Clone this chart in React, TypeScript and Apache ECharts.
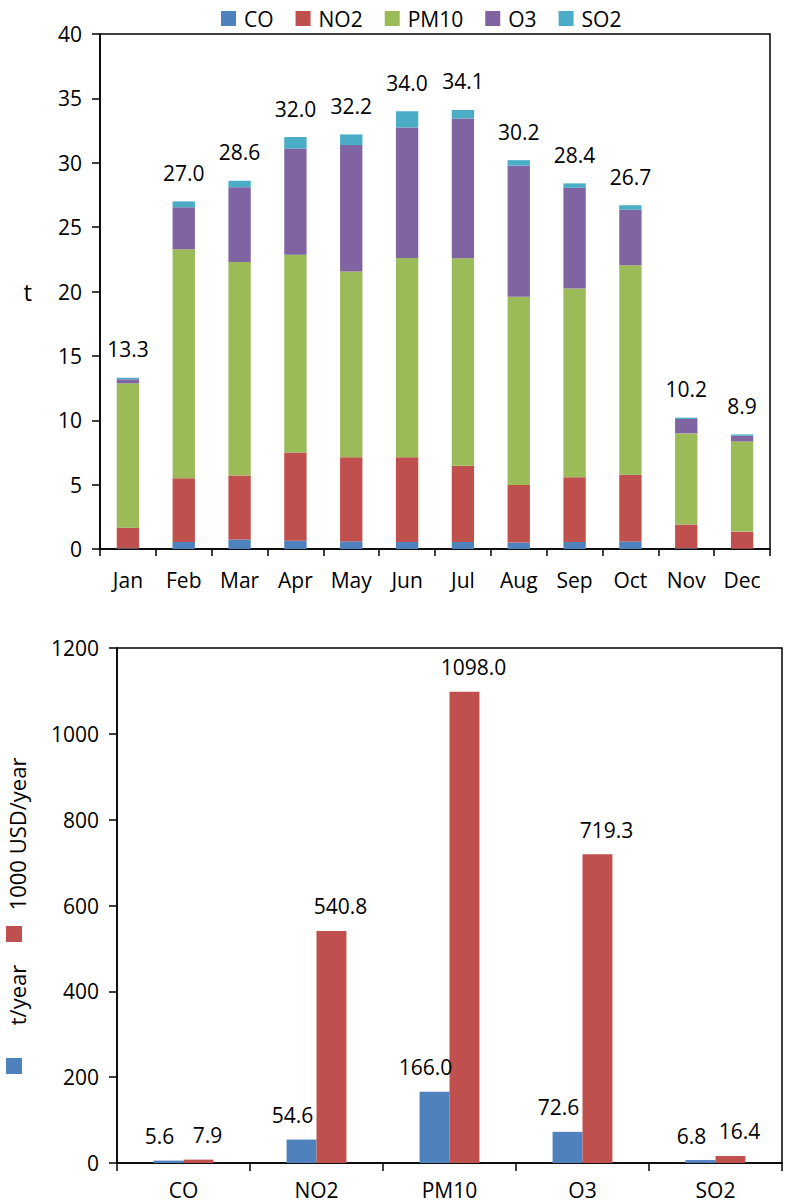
import React, { useEffect, useRef } from "react";
import * as echarts from "echarts";

const months = ["Jan", "Feb", "Mar", "Apr", "May", "Jun", "Jul", "Aug", "Sep", "Oct", "Nov", "Dec"];
const coMonthly = [0.05, 0.55, 0.74, 0.64, 0.59, 0.55, 0.55, 0.5, 0.55, 0.59, 0.05, 0.02];
const no2Monthly = [1.61, 4.94, 4.96, 6.86, 6.54, 6.58, 5.91, 4.48, 5.02, 5.17, 1.85, 1.33];
const pm10Monthly = [11.21, 17.79, 16.6, 15.36, 14.43, 15.47, 16.12, 14.62, 14.66, 16.27, 7.08, 7.01];
const o3Monthly = [0.31, 3.26, 5.8, 8.24, 9.81, 10.14, 10.86, 10.17, 7.82, 4.32, 1.12, 0.44];
const so2Monthly = [0.12, 0.46, 0.5, 0.9, 0.83, 1.26, 0.66, 0.43, 0.35, 0.35, 0.1, 0.1];

const pollutants = ["CO", "NO2", "PM10", "O3", "SO2"];
const tonsPerYear = [5.6, 54.6, 166.0, 72.6, 6.8];
const costPerYear = [7.9, 540.8, 1098.0, 719.3, 16.4];

const topSeries = [
  { name: "CO", data: coMonthly, color: "#4F81BD" },
  { name: "NO2", data: no2Monthly, color: "#C0504D" },
  { name: "PM10", data: pm10Monthly, color: "#9BBB59" },
  { name: "O3", data: o3Monthly, color: "#8064A2" },
  { name: "SO2", data: so2Monthly, color: "#4BACC6" },
];

const FONT = "Open Sans";

export default function App() {
  const ref = useRef<HTMLDivElement>(null);
  useEffect(() => {
    if (!ref.current) return;
    const chart = echarts.init(ref.current, undefined, { renderer: "svg" });
    const totals = months.map((_, i) =>
      topSeries.reduce((s, ser) => s + ser.data[i], 0)
    );
    const axisLine = { show: true, lineStyle: { color: "#000", width: 1.5 } };
    const labelStyle = { color: "#000", fontSize: 21, fontFamily: FONT };
    const plain = (v: number) => String(v);
    const option: any = {
      animation: false,
      backgroundColor: "#fff",
      textStyle: { fontFamily: FONT },
      legend: {
        data: topSeries.map((s) => s.name),
        left: 216,
        top: 3,
        icon: "rect",
        itemWidth: 15,
        itemHeight: 15,
        itemGap: 22,
        textStyle: { color: "#000", fontSize: 21, fontFamily: FONT, padding: [0, 0, 0, 3] },
      },
      grid: [
        { left: 100, top: 34, width: 670, height: 515, show: true, borderColor: "#000", borderWidth: 1.5, backgroundColor: "transparent" },
        { left: 117, top: 648, width: 665, height: 515, show: true, borderColor: "#000", borderWidth: 1.5, backgroundColor: "transparent" },
      ],
      xAxis: [
        {
          gridIndex: 0,
          type: "category",
          data: months,
          axisLine,
          axisTick: { show: true, length: 7, lineStyle: { color: "#000", width: 1.5 } },
          axisLabel: { ...labelStyle, margin: 20 },
        },
        {
          gridIndex: 1,
          type: "category",
          data: pollutants,
          axisLine,
          axisTick: { show: true, length: 8, lineStyle: { color: "#000", width: 1.5 } },
          axisLabel: { ...labelStyle, margin: 16 },
        },
      ],
      yAxis: [
        {
          gridIndex: 0,
          type: "value",
          min: 0,
          max: 40,
          interval: 5,
          name: "t",
          nameLocation: "middle",
          nameRotate: 0,
          nameGap: 68,
          nameTextStyle: { color: "#000", fontSize: 24, fontFamily: FONT },
          axisLine,
          axisTick: { show: true, length: 8, lineStyle: { color: "#000", width: 1.5 } },
          axisLabel: { ...labelStyle, margin: 18, formatter: plain },
          splitLine: { show: false },
        },
        {
          gridIndex: 1,
          type: "value",
          min: 0,
          max: 1200,
          interval: 200,
          axisLine,
          axisTick: { show: true, length: 8, lineStyle: { color: "#000", width: 1.5 } },
          axisLabel: { ...labelStyle, margin: 18, formatter: plain },
          splitLine: { show: false },
        },
      ],
      series: [
        ...topSeries.map((s, idx) => ({
          name: s.name,
          type: "bar",
          stack: "month",
          xAxisIndex: 0,
          yAxisIndex: 0,
          barCategoryGap: "60%",
          data: s.data,
          itemStyle: { color: s.color },
          label:
            idx === topSeries.length - 1
              ? {
                  show: true,
                  position: "top",
                  distance: 18,
                  ...labelStyle,
                  formatter: (p: any) => totals[p.dataIndex].toFixed(1),
                }
              : { show: false },
        })),
        {
          name: "t/year",
          type: "bar",
          xAxisIndex: 1,
          yAxisIndex: 1,
          barGap: "0%",
          barCategoryGap: "55%",
          data: tonsPerYear,
          itemStyle: { color: "#4F81BD" },
          label: { show: true, position: "top", distance: 14, offset: [-9, 0], ...labelStyle, formatter: (p: any) => Number(p.value).toFixed(1) },
        },
        {
          name: "1000 USD/year",
          type: "bar",
          xAxisIndex: 1,
          yAxisIndex: 1,
          barGap: "0%",
          barCategoryGap: "55%",
          data: costPerYear,
          itemStyle: { color: "#C0504D" },
          label: { show: true, position: "top", distance: 14, offset: [9, 0], ...labelStyle, formatter: (p: any) => Number(p.value).toFixed(1) },
        },
      ],
      graphic: [
        { type: "rect", shape: { x: 6, y: 1058, width: 16, height: 16 }, style: { fill: "#4F81BD" } },
        {
          type: "text",
          x: 17,
          y: 995,
          rotation: Math.PI / 2,
          style: { text: "t/year", fill: "#000", fontSize: 22, fontFamily: FONT, textAlign: "center", textVerticalAlign: "middle" },
        },
        { type: "rect", shape: { x: 6, y: 926, width: 16, height: 16 }, style: { fill: "#C0504D" } },
        {
          type: "text",
          x: 17,
          y: 834,
          rotation: Math.PI / 2,
          style: { text: "1000 USD/year", fill: "#000", fontSize: 22, fontFamily: FONT, textAlign: "center", textVerticalAlign: "middle" },
        },
      ],
    };
    chart.setOption(option);
    return () => chart.dispose();
  }, []);
  return (
    <div
      ref={ref}
      style={{ position: "absolute", left: 0, top: 0, width: 786, height: 1204, background: "#fff" }}
    />
  );
}
